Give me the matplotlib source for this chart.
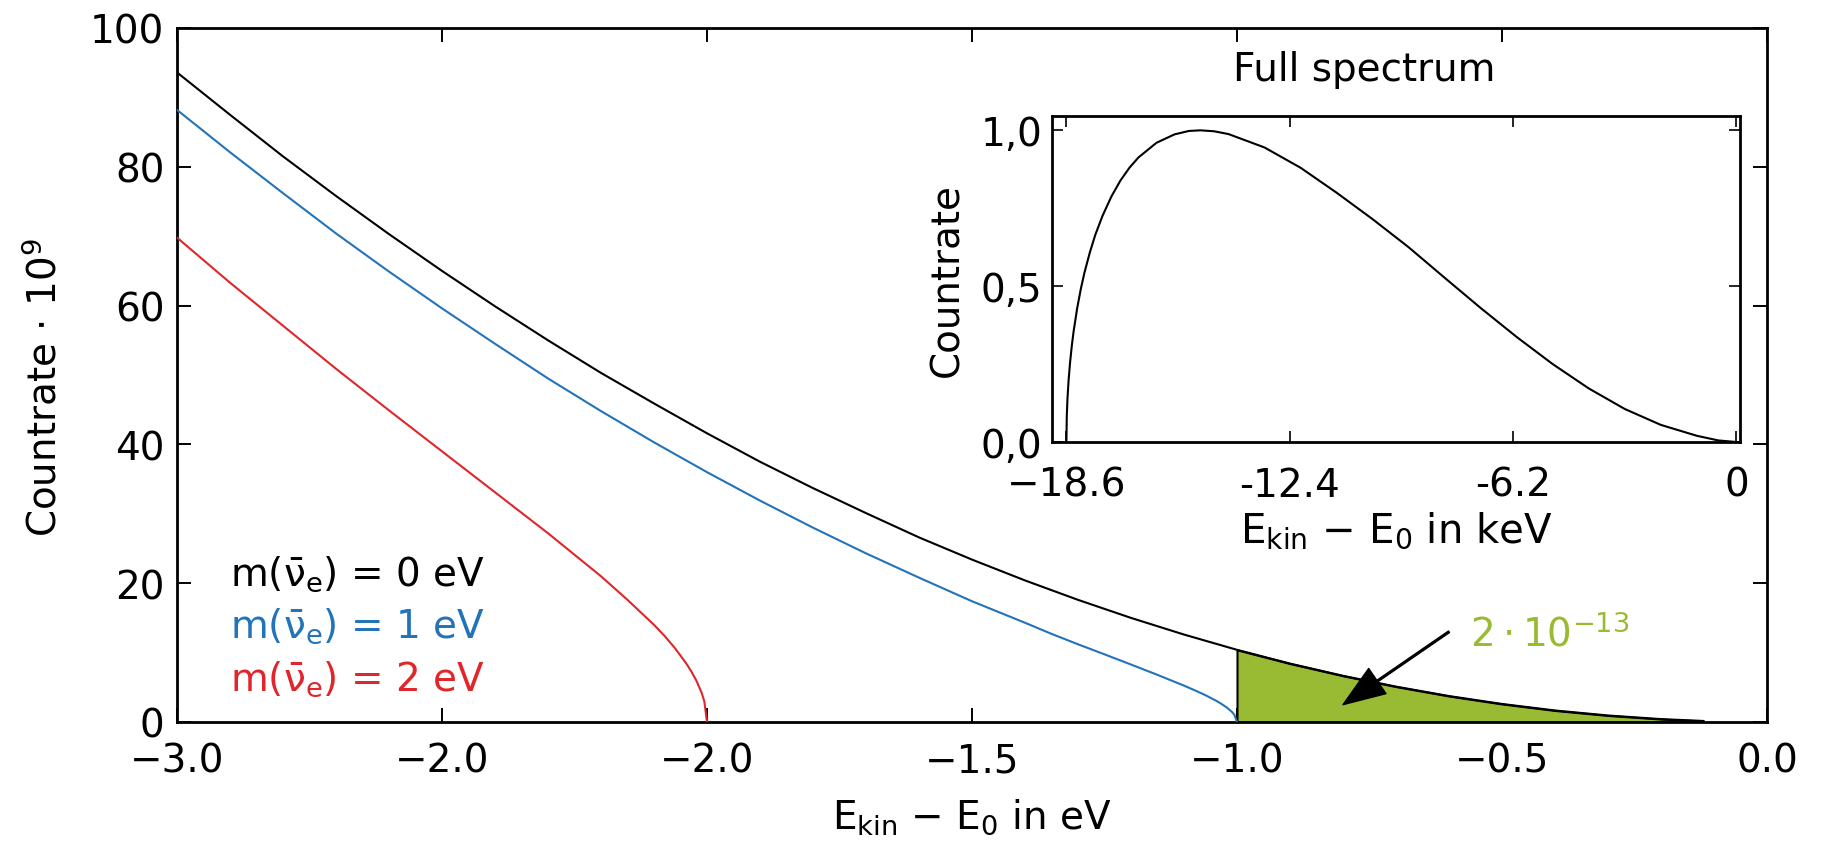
import matplotlib

matplotlib.use("Agg")
import matplotlib.pyplot as plt
import numpy as np

plt.rcParams["mathtext.fontset"] = "dejavusans"

# near-endpoint spectrum (count rate x 1e9) for three neutrino masses
x_m0 = [-3.0, -2.9, -2.8, -2.7, -2.6, -2.5, -2.4, -2.3, -2.2, -2.1, -2.0,
        -1.9, -1.8, -1.7, -1.6, -1.5, -1.4, -1.3, -1.2, -1.1, -1.0,
        -0.9, -0.8, -0.7, -0.6, -0.5, -0.4, -0.3, -0.2, -0.12]
y_m0 = [93.6, 87.5, 81.5, 75.8, 70.3, 65.0, 59.9, 55.0, 50.3, 45.9, 41.6,
        37.5, 33.7, 30.1, 26.6, 23.4, 20.4, 17.6, 15.0, 12.6, 10.4,
        8.42, 6.66, 5.10, 3.74, 2.60, 1.66, 0.94, 0.42, 0.15]

x_m1 = [-3.0, -2.9, -2.8, -2.7, -2.6, -2.5, -2.4, -2.3, -2.2, -2.1, -2.0,
        -1.9, -1.8, -1.7, -1.6, -1.5, -1.4, -1.35, -1.3, -1.25, -1.2,
        -1.15, -1.1, -1.08, -1.06, -1.04, -1.03, -1.02, -1.01, -1.005, -1.0]
y_m1 = [88.2, 82.1, 76.2, 70.4, 64.9, 59.6, 54.5, 49.5, 44.8, 40.3, 36.0,
        31.9, 28.0, 24.3, 20.8, 17.4, 14.3, 12.7, 11.2, 9.75, 8.28,
        6.79, 5.24, 4.58, 3.88, 3.09, 2.64, 2.13, 1.49, 1.05, 0.0]

x_m2 = [-3.0, -2.9, -2.8, -2.7, -2.6, -2.5, -2.4, -2.3, -2.25, -2.2, -2.15,
        -2.1, -2.08, -2.06, -2.04, -2.03, -2.02, -2.01, -2.005, -2.0]
y_m2 = [69.8, 63.3, 57.1, 50.9, 44.9, 39.0, 33.1, 27.2, 24.1, 21.0, 17.6,
        14.0, 12.4, 10.6, 8.53, 7.34, 5.96, 4.19, 2.95, 0.0]

masses = ["0", "1", "2"]
mass_colors = ["black", "#2273b9", "#e0262a"]

xticks = [-3.0, -2.5, -2.0, -1.5, -1.0, -0.5, 0.0]
xticklabels = ["\u22123.0", "\u22122.0", "\u22122.0", "\u22121.5", "\u22121.0", "\u22120.5", "0.0"]
yticks = [0, 20, 40, 60, 80, 100]

# full beta spectrum, normalised to its maximum
x_full = [-18.6, -18.59, -18.57, -18.54, -18.5, -18.45, -18.4, -18.3, -18.2,
          -18.1, -17.95, -17.8, -17.6, -17.35, -17.1, -16.85, -16.6, -16.1,
          -15.6, -15.2, -14.88, -14.5, -14.1, -13.1, -12.1, -11.1, -10.1,
          -9.1, -8.1, -7.1, -6.1, -5.1, -4.1, -3.1, -2.1, -1.1, -0.5, 0.0]
y_full = [0.0, 0.081, 0.140, 0.197, 0.253, 0.309, 0.355, 0.430, 0.491,
          0.543, 0.608, 0.664, 0.725, 0.788, 0.839, 0.880, 0.913, 0.960,
          0.987, 0.998, 1.0, 0.997, 0.988, 0.945, 0.88, 0.80, 0.715,
          0.625, 0.527, 0.43, 0.337, 0.25, 0.172, 0.106, 0.055, 0.02, 0.005, 0.0]
inset_xticks = [-18.6, -12.4, -6.2, 0.0]
inset_xticklabels = ["\u221218.6", "-12.4", "-6.2", "0"]
inset_yticks = [0.0, 0.5, 1.0]
inset_yticklabels = ["0,0", "0,5", "1,0"]

GREEN = "#99bb33"
FS = 28
W, H = 1831, 854

fig = plt.figure(figsize=(W / 100, H / 100), dpi=100)
ax = fig.add_axes([177 / W, 1 - 723 / H, (1767 - 177) / W, (723 - 29) / H])

for xs, ys, c in zip([x_m0, x_m1, x_m2], [y_m0, y_m1, y_m2], mass_colors):
    ax.plot(xs, ys, color=c, lw=1.5, zorder=3)

# tail of the m=0 spectrum beyond the 1 eV endpoint
xa = np.array(x_m0)
ya = np.array(y_m0)
sel = xa >= -1.0
ax.fill_between(xa[sel], ya[sel], 0, facecolor=GREEN, edgecolor="black",
                lw=1.5, zorder=2)

ax.annotate("", xy=(-0.80, 2.5), xytext=(-0.60, 13.0),
            arrowprops=dict(facecolor="black", edgecolor="black", width=1.3,
                            headwidth=22, headlength=30, shrink=0), zorder=4)
ax.text(-0.56, 11.0, r"$2\cdot10^{-13}$", color=GREEN, fontsize=FS,
        ha="left", va="baseline")

for i, (m, c) in enumerate(zip(masses, mass_colors)):
    ax.text(-2.9, 21.5 - 7.6 * i,
            r"m$(\bar{\mathrm{\nu}}_{\mathrm{e}})$ = " + m + " eV",
            color=c, fontsize=FS, ha="left", va="center")

ax.set_xlim(-3.0, 0.0)
ax.set_ylim(0, 100)
ax.set_xticks(xticks, xticklabels)
ax.set_yticks(yticks)
ax.tick_params(direction="in", top=True, right=True, length=10, width=1.4,
               labelsize=FS)
ax.tick_params(axis="x", pad=14)
ax.tick_params(axis="y", pad=9)
for s in ax.spines.values():
    s.set_linewidth(2.0)
ax.set_xlabel(r"E$_{\mathrm{kin}}$ $-$ E$_{\mathrm{0}}$ in eV", fontsize=FS,
              labelpad=12)
ax.set_ylabel(r"Countrate $\cdot$ 10$^9$", fontsize=FS)
ax.yaxis.set_label_coords(-0.071, 0.483)

# inset: whole spectrum
axi = fig.add_axes([1052 / W, 1 - 443 / H, (1740 - 1052) / W, (443 - 117) / H])
axi.plot(x_full, y_full, color="black", lw=1.5)
axi.set_xlim(-19.0, 0.1)
axi.set_ylim(0, 1.046)
axi.set_xticks(inset_xticks, inset_xticklabels)
axi.set_yticks(inset_yticks, inset_yticklabels)
axi.tick_params(direction="in", top=True, right=True, length=8, width=1.2,
                labelsize=FS)
axi.tick_params(axis="x", pad=17)
axi.tick_params(axis="y", pad=7)
for s in axi.spines.values():
    s.set_linewidth(2.0)
axi.set_xlabel(r"E$_{\mathrm{kin}}$ $-$ E$_{\mathrm{0}}$ in keV", fontsize=29,
               labelpad=4)
axi.set_ylabel("Countrate", fontsize=FS, labelpad=10)
fig.text(1364 / W, 1 - 70 / H, "Full spectrum", fontsize=FS,
         ha="center", va="center")

fig.savefig("out.png", dpi=100)
